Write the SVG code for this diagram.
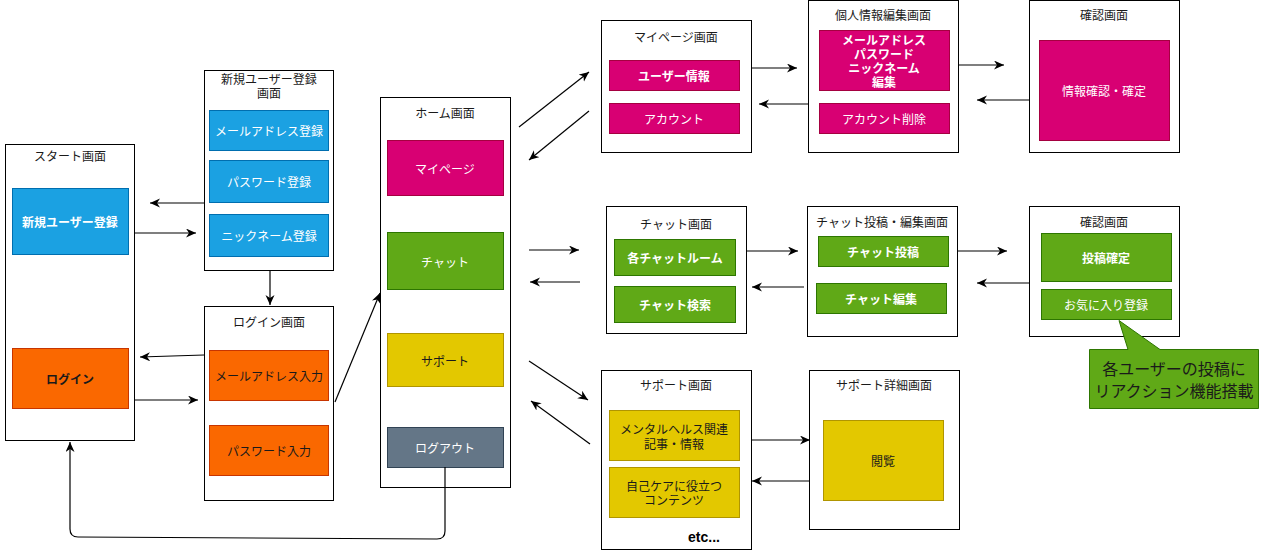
<svg xmlns="http://www.w3.org/2000/svg" width="1262" height="551" viewBox="0 0 1262 551">
<defs>
<style>
text{font-family:"Noto Sans CJK JP","Noto Sans",sans-serif;font-size:12px;text-anchor:middle;dominant-baseline:central}
.scr{fill:#ffffff;stroke:#000000;stroke-width:1}
.t{fill:#1a1a1a}
.w{fill:#ffffff}
.b{font-weight:bold}
.blue{fill:#1BA1E2;stroke:#006EAF}
.orange{fill:#FA6800;stroke:#C73500}
.mag{fill:#D80073;stroke:#A50040}
.green{fill:#60A917;stroke:#2D7600}
.yel{fill:#E3C800;stroke:#B09500}
.gray{fill:#647687;stroke:#314354}
.c{fill:none;stroke:#000000;stroke-width:1.2;marker-end:url(#ah)}
</style>
<marker id="ah" markerUnits="userSpaceOnUse" markerWidth="12" markerHeight="10" refX="10" refY="4.5" orient="auto">
<path d="M0,0 L10,4.5 L0,9 L3,4.5 Z" fill="#000"/>
</marker>
</defs>
<rect width="1262" height="551" fill="#ffffff"/>

<g id="start">
<rect class="scr" x="5.5" y="144.5" width="129" height="296"/>
<text class="t" x="70" y="155">スタート画面</text>
<rect class="blue" x="12.5" y="188.5" width="116" height="66"/>
<text class="w b" x="70" y="221">新規ユーザー登録</text>
<rect class="orange" x="12.5" y="348.5" width="116" height="60"/>
<text class="t b" x="70" y="378" fill="#000">ログイン</text>
</g>

<g id="register">
<rect class="scr" x="204.5" y="70.5" width="129" height="200"/>
<text class="t" x="269" y="78">新規ユーザー登録<tspan x="269" dy="14">画面</tspan></text>
<rect class="blue" x="209.5" y="110.5" width="119" height="40"/>
<text class="w" x="269" y="130">メールアドレス登録</text>
<rect class="blue" x="209.5" y="160.5" width="119" height="42"/>
<text class="w" x="269" y="181">パスワード登録</text>
<rect class="blue" x="209.5" y="214.5" width="119" height="42"/>
<text class="w" x="269" y="235">ニックネーム登録</text>
</g>

<g id="login">
<rect class="scr" x="204.5" y="306.5" width="129" height="194"/>
<text class="t" x="269" y="321">ログイン画面</text>
<rect class="orange" x="209.5" y="350.5" width="119" height="50"/>
<text class="t" x="269" y="375">メールアドレス入力</text>
<rect class="orange" x="209.5" y="425.5" width="119" height="50"/>
<text class="t" x="269" y="450">パスワード入力</text>
</g>

<g id="home">
<rect class="scr" x="380.5" y="97.5" width="130" height="390"/>
<text class="t" x="445" y="112">ホーム画面</text>
<rect class="mag" x="387.5" y="140.5" width="116" height="55"/>
<text class="w" x="445" y="168">マイページ</text>
<rect class="green" x="387.5" y="232.5" width="116" height="57"/>
<text class="w" x="445" y="261">チャット</text>
<rect class="yel" x="387.5" y="333.5" width="116" height="53"/>
<text class="t" x="445" y="360">サポート</text>
<rect class="gray" x="387.5" y="427.5" width="116" height="40"/>
<text class="w" x="445" y="447">ログアウト</text>
</g>

<g id="mypage">
<rect class="scr" x="601.5" y="20.5" width="150" height="132"/>
<text class="t" x="676" y="36">マイページ画面</text>
<rect class="mag" x="609.5" y="60.5" width="130" height="30"/>
<text class="w b" x="674" y="75">ユーザー情報</text>
<rect class="mag" x="609.5" y="103.5" width="130" height="30"/>
<text class="w" x="674" y="118">アカウント</text>
</g>

<g id="profile-edit">
<rect class="scr" x="808.5" y="0.5" width="150" height="152"/>
<text class="t" x="883" y="14">個人情報編集画面</text>
<rect class="mag" x="819.5" y="30.5" width="130" height="60"/>
<text class="w b" x="884" y="39">メールアドレス<tspan x="884" dy="14">パスワード</tspan><tspan x="884" dy="14">ニックネーム</tspan><tspan x="884" dy="14">編集</tspan></text>
<rect class="mag" x="819.5" y="103.5" width="130" height="30"/>
<text class="w" x="884" y="118">アカウント削除</text>
</g>

<g id="confirm-profile">
<rect class="scr" x="1029.5" y="0.5" width="150" height="152"/>
<text class="t" x="1104" y="14">確認画面</text>
<rect class="mag" x="1039.5" y="40.5" width="130" height="100"/>
<text class="w" x="1104" y="90">情報確認・確定</text>
</g>

<g id="chat">
<rect class="scr" x="606.5" y="206.5" width="140" height="127"/>
<text class="t" x="676" y="223">チャット画面</text>
<rect class="green" x="614.5" y="239.5" width="121" height="36"/>
<text class="w b" x="675" y="257">各チャットルーム</text>
<rect class="green" x="614.5" y="286.5" width="121" height="36"/>
<text class="w b" x="675" y="304">チャット検索</text>
</g>

<g id="chat-edit">
<rect class="scr" x="807.5" y="206.5" width="150" height="130"/>
<text class="t" x="882" y="221">チャット投稿・編集画面</text>
<rect class="green" x="818.5" y="236.5" width="130" height="30"/>
<text class="w b" x="883" y="251">チャット投稿</text>
<rect class="green" x="816.5" y="283.5" width="130" height="30"/>
<text class="w b" x="881" y="298">チャット編集</text>
</g>

<g id="confirm-chat">
<rect class="scr" x="1029.5" y="206.5" width="150" height="130"/>
<text class="t" x="1104" y="221">確認画面</text>
<rect class="green" x="1041.5" y="233.5" width="130" height="48"/>
<text class="w b" x="1106" y="257">投稿確定</text>
<rect class="green" x="1041.5" y="289.5" width="130" height="30"/>
<text class="w" x="1106" y="304">お気に入り登録</text>
</g>

<g id="callout">
<path d="M1089.5,349.5 L1128,349.5 L1119,320.5 L1160,349.5 L1258.5,349.5 L1258.5,408.5 L1089.5,408.5 Z" fill="#60A917" stroke="#2D7600"/>
<text x="1174" y="368" style="font-size:16px" fill="#1a1a1a">各ユーザーの投稿に<tspan x="1174" dy="22">リアクション機能搭載</tspan></text>
</g>

<g id="support">
<rect class="scr" x="601.5" y="370.5" width="150" height="179"/>
<text class="t" x="676" y="384">サポート画面</text>
<rect class="yel" x="609.5" y="410.5" width="130" height="50"/>
<text class="t" x="674" y="428">メンタルヘルス関連<tspan x="674" dy="15">記事・情報</tspan></text>
<rect class="yel" x="609.5" y="467.5" width="130" height="50"/>
<text class="t" x="674" y="485">自己ケアに役立つ<tspan x="674" dy="14">コンテンツ</tspan></text>
<text x="704" y="537" style="font-family:'Liberation Sans',Arial,sans-serif;font-size:14px;font-weight:bold" fill="#000">etc...</text>
</g>

<g id="support-detail">
<rect class="scr" x="809.5" y="370.5" width="150" height="159"/>
<text class="t" x="884" y="384">サポート詳細画面</text>
<rect class="yel" x="823.5" y="420.5" width="120" height="80"/>
<text class="t" x="883" y="460">閲覧</text>
</g>

<g id="connectors">
<path class="c" d="M135,233 L196,233"/>
<path class="c" d="M204,203 L150,203"/>
<path class="c" d="M270,270 L270,305"/>
<path class="c" d="M204,355 L140,357"/>
<path class="c" d="M134,400 L198,400"/>
<path class="c" d="M335,402 L380,293"/>
<path class="c" d="M445,467 L445,531 Q445,539 437,539 L78,537 Q70,537 70,529 L70,442"/>
<path class="c" d="M519,127 L589,72"/>
<path class="c" d="M589,111 L529,160"/>
<path class="c" d="M529,250 L579,250"/>
<path class="c" d="M580,282 L530,282"/>
<path class="c" d="M529,361 L588,400"/>
<path class="c" d="M590,444 L531,401"/>
<path class="c" d="M752,68 L797,68"/>
<path class="c" d="M808,104 L759,104"/>
<path class="c" d="M958,65 L1004,65"/>
<path class="c" d="M1029,100 L977,100"/>
<path class="c" d="M746,251 L798,251"/>
<path class="c" d="M804,287 L752,287"/>
<path class="c" d="M958,251 L1007,251"/>
<path class="c" d="M1029,283 L977,283"/>
<path class="c" d="M751,440 L810,440"/>
<path class="c" d="M809,481 L752,481"/>
</g>
</svg>
